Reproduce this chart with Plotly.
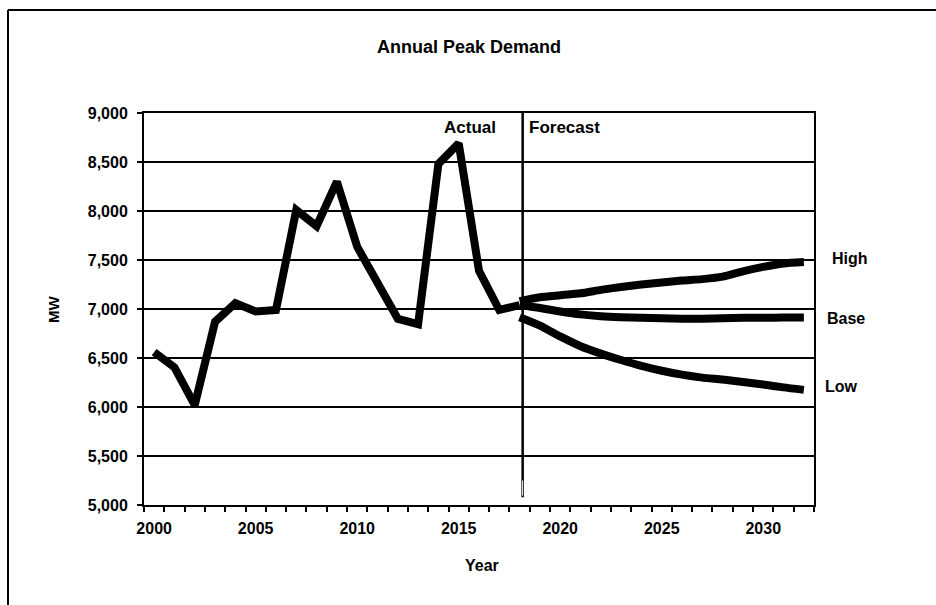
import plotly.graph_objects as go

# Annual peak demand (MW)
actual_years = list(range(2000, 2019))
actual_mw = [6560, 6405, 6020, 6870, 7060, 6975, 6990, 8010, 7845, 8300,
             7635, 7260, 6900, 6845, 8480, 8690, 7390, 6990, 7040]

forecast_years = list(range(2018, 2033))
high_mw = [7080, 7120, 7140, 7160, 7195, 7225, 7250, 7270, 7290, 7305,
           7330, 7385, 7430, 7465, 7480]
base_mw = [7040, 7010, 6975, 6945, 6925, 6915, 6910, 6905, 6900, 6900,
           6905, 6910, 6910, 6912, 6912]
low_mw = [6915, 6830, 6720, 6620, 6545, 6480, 6420, 6370, 6330, 6300,
          6280, 6255, 6230, 6200, 6175]

scenario_names = ["High", "Base", "Low"]
scenario_values = [high_mw, base_mw, low_mw]

x_tick_years = [2000, 2005, 2010, 2015, 2020, 2025, 2030]
y_ticks = [5000, 5500, 6000, 6500, 7000, 7500, 8000, 8500, 9000]

divider_year = 2018.15  # boundary between history and projection

FONT = "Arial, Liberation Sans, Helvetica, sans-serif"
INK = "#000000"
LINE_W = 8

fig = go.Figure()

fig.add_trace(go.Scatter(
    x=actual_years, y=actual_mw, mode="lines",
    line=dict(color=INK, width=LINE_W), showlegend=False, hoverinfo="x+y",
))
for name, vals in zip(scenario_names, scenario_values):
    fig.add_trace(go.Scatter(
        x=forecast_years, y=vals, mode="lines", name=name,
        line=dict(color=INK, width=LINE_W, shape="spline", smoothing=0.6),
        showlegend=False,
    ))

# Vertical divider between actual and forecast
fig.add_shape(type="line", xref="x", yref="y",
              x0=divider_year, x1=divider_year, y0=5080, y1=9000,
              line=dict(color=INK, width=2.5), layer="above")
fig.add_shape(type="line", xref="x", yref="y",
              x0=divider_year, x1=divider_year, y0=5095, y1=5250,
              line=dict(color="white", width=1), layer="above")

# Page frame (top and left rules)
fig.add_shape(type="line", xref="paper", yref="paper",
              x0=(8 - 144) / 670, x1=(936 - 144) / 670,
              y0=(505 - 10) / 392, y1=(505 - 10) / 392,
              line=dict(color=INK, width=2))
fig.add_shape(type="line", xref="paper", yref="paper",
              x0=(8 - 144) / 670, x1=(8 - 144) / 670,
              y0=(505 - 10) / 392, y1=(505 - 610) / 392,
              line=dict(color=INK, width=2))

bold = dict(family=FONT, size=16, color=INK, weight="bold")

fig.add_annotation(x=divider_year - 1.2, y=8850, text="Actual", showarrow=False,
                   xanchor="right", yanchor="middle", font=dict(bold, size=17))
fig.add_annotation(x=divider_year + 0.2, y=8850, text="Forecast", showarrow=False,
                   xanchor="left", yanchor="middle", font=dict(bold, size=17))

label_shift = {"High": (26, 3), "Base": (21, -1), "Low": (19, 3)}
for name, vals in zip(scenario_names, scenario_values):
    dx, dy = label_shift[name]
    fig.add_annotation(x=forecast_years[-1], y=vals[-1], text=name, showarrow=False,
                       xanchor="left", yanchor="middle", xshift=dx, yshift=dy,
                       font=bold)

fig.add_annotation(xref="paper", yref="paper", x=(53 - 144) / 670, y=(505 - 310) / 392,
                   text="MW", textangle=-90, showarrow=False,
                   xanchor="center", yanchor="middle", font=dict(bold, size=15))
fig.add_annotation(xref="paper", yref="paper", x=(482 - 144) / 670, y=(505 - 565) / 392,
                   text="Year", showarrow=False,
                   xanchor="center", yanchor="middle", font=dict(bold, size=16))

fig.update_layout(
    width=936, height=605,
    margin=dict(l=144, r=122, t=113, b=100),
    paper_bgcolor="white", plot_bgcolor="white",
    title=dict(text="Annual Peak Demand", x=469 / 936, xanchor="center",
               y=1 - 47 / 605, yanchor="middle",
               font=dict(family=FONT, size=18, color=INK, weight="bold")),
    font=dict(family=FONT, color=INK),
)

fig.update_xaxes(
    range=[1999.5, 2032.5], tickvals=x_tick_years, ticktext=[str(v) for v in x_tick_years],
    ticks="", showgrid=False, zeroline=False,
    showline=True, linecolor=INK, linewidth=2, mirror=True,
    tickfont=bold, ticklabelstandoff=8,
    minor=dict(tick0=1999.5, dtick=1, ticks="outside", ticklen=5, tickwidth=1.5,
               tickcolor=INK, showgrid=False),
)
fig.update_yaxes(
    range=[5000, 9000], tickvals=y_ticks, tickformat=",d",
    ticks="outside", ticklen=5, tickwidth=1.5, tickcolor=INK,
    showgrid=True, gridcolor=INK, gridwidth=1.5, zeroline=False,
    showline=True, linecolor=INK, linewidth=2, mirror=True,
    tickfont=bold, ticklabelstandoff=6,
)

fig.write_html("out.html")
